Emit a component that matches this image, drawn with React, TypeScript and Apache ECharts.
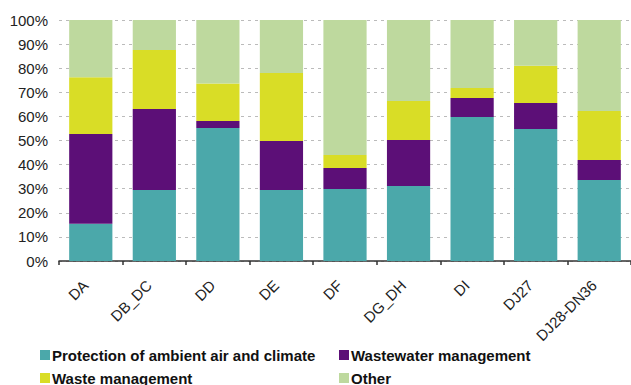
import React, { useEffect, useRef } from "react";
import * as echarts from "echarts";

const categories = ["DA", "DB_DC", "DD", "DE", "DF", "DG_DH", "DI", "DJ27", "DJ28-DN36"];
const seriesNames = ["Protection of ambient air and climate", "Wastewater management", "Waste management", "Other"];
const airClimate = [15.5, 29.5, 55.2, 29.5, 29.9, 31.1, 59.8, 54.8, 33.6];
const wastewater = [37.2, 33.6, 2.9, 20.3, 8.7, 19.1, 7.8, 10.8, 8.3];
const waste = [23.5, 24.5, 15.5, 28.2, 5.4, 16.2, 4.2, 15.4, 20.3];
const other = [23.8, 12.4, 26.4, 22.0, 56.0, 33.6, 28.2, 19.0, 37.8];
const colors = ["#4ba8aa", "#5c0f77", "#d9dd26", "#bed99e"];
const yTicks = [0, 10, 20, 30, 40, 50, 60, 70, 80, 90, 100];

export default function App() {
  const ref = useRef<HTMLDivElement>(null);
  useEffect(() => {
    if (!ref.current) return;
    const chart = echarts.init(ref.current, undefined, { renderer: "svg" });
    const font = "'Liberation Sans', Arial, sans-serif";
    const data = [airClimate, wastewater, waste, other];
    const legendBase = {
      orient: "vertical",
      top: 342,
      height: 60,
      itemWidth: 10,
      itemHeight: 10,
      itemGap: 7,
      icon: "rect",
      textStyle: { fontSize: 15, fontWeight: "bold", color: "#111", fontFamily: font, padding: [0, 0, 0, -3], lineHeight: 16 },
    };
    chart.setOption({
      animation: false,
      textStyle: { fontFamily: font },
      grid: { left: 59, right: 0, top: 20, bottom: 124 },
      xAxis: {
        type: "category",
        data: categories,
        axisLine: { lineStyle: { color: "#333", width: 1.5 } },
        axisTick: { show: true, length: 4, lineStyle: { color: "#333", width: 1.5 } },
        axisLabel: { rotate: 45, fontSize: 15, color: "#222", margin: 27, fontFamily: font, interval: 0, verticalAlign: "bottom" },
      },
      yAxis: {
        type: "value",
        min: 0,
        max: 100,
        interval: 10,
        axisLine: { show: false },
        axisTick: { show: false },
        axisLabel: { formatter: (v: number) => (yTicks.includes(v) ? v + "%" : ""), fontSize: 15, color: "#222", margin: 11, fontFamily: font },
        splitLine: { lineStyle: { color: "#bbbbbb", type: [3, 4], width: 1 } },
      },
      legend: [
        { ...legendBase, left: 35, data: [seriesNames[0], seriesNames[2]] },
        { ...legendBase, left: 334, data: [seriesNames[1], seriesNames[3]] },
      ],
      series: seriesNames.map((name, i) => ({
        name,
        type: "bar",
        stack: "total",
        data: data[i],
        itemStyle: { color: colors[i] },
        barCategoryGap: "32%",
        emphasis: { disabled: true },
      })),
    });
    return () => chart.dispose();
  }, []);
  return <div ref={ref} style={{ width: 631, height: 385, position: "absolute", left: 0, top: 0 }} />;
}
